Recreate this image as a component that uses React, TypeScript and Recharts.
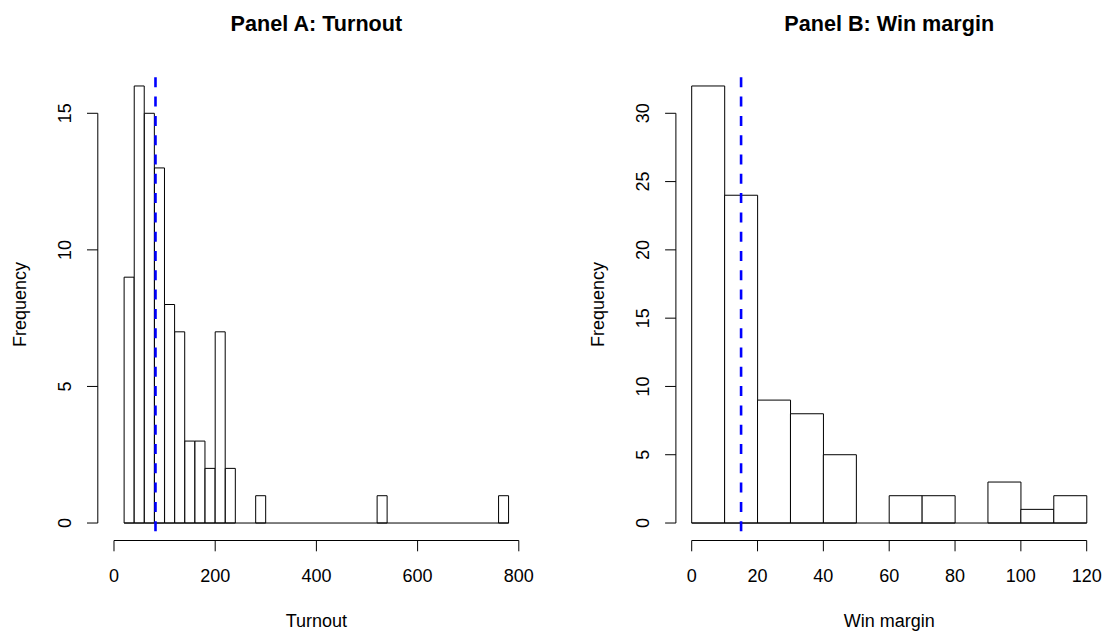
import React from "react";
import { ComposedChart, Bar, XAxis, YAxis, ReferenceLine, Label } from "recharts";

// Panel A: turnout histogram (bins of 20)
const turnoutBinStarts = [
  20, 40, 60, 80, 100, 120, 140, 160, 180, 200, 220, 240, 260, 280, 300, 320, 340, 360, 380,
  400, 420, 440, 460, 480, 500, 520, 540, 560, 580, 600, 620, 640, 660, 680, 700, 720, 740, 760,
];
const turnoutCounts = [
  9, 16, 15, 13, 8, 7, 3, 3, 2, 7, 2, 0, 0, 1, 0, 0, 0, 0, 0,
  0, 0, 0, 0, 0, 0, 1, 0, 0, 0, 0, 0, 0, 0, 0, 0, 0, 0, 1,
];
const turnoutTicks = [0, 200, 400, 600, 800];
const turnoutFreqTicks = [0, 5, 10, 15];
const turnoutMean = 82;

// Panel B: win margin histogram (bins of 10)
const marginBinStarts = [0, 10, 20, 30, 40, 50, 60, 70, 80, 90, 100, 110];
const marginCounts = [32, 24, 9, 8, 5, 0, 2, 2, 0, 3, 1, 2];
const marginTicks = [0, 20, 40, 60, 80, 100, 120];
const marginFreqTicks = [0, 5, 10, 15, 20, 25, 30];
const marginMean = 15;

const FONT = "'Liberation Sans', Arial, Helvetica, sans-serif";
const H = 632;
const PLOT_TOP = 68.5;
const PLOT_BOTTOM = 540.5;
const TICK = 10.8;

type PanelProps = {
  title: string;
  xLabel: string;
  binStarts: number[];
  binWidth: number;
  counts: number[];
  xTicks: number[];
  yTicks: number[];
  mean: number;
  xDomain: [number, number];
  yDomain: [number, number];
  chartLeft: number;
  chartWidth: number;
  plotLeft: number;
  plotRight: number;
};

function Panel(p: PanelProps) {
  const plotW = p.plotRight - p.plotLeft;
  const pxPerUnit = plotW / (p.xDomain[1] - p.xDomain[0]);
  const firstEdge = p.binStarts[0];
  const lastEdge = p.binStarts[p.binStarts.length - 1] + p.binWidth;
  const padLeft = (firstEdge - p.xDomain[0]) * pxPerUnit;
  const padRight = (p.xDomain[1] - lastEdge) * pxPerUnit;
  const data = p.binStarts.map((s, i) => ({
    bin: `${s}-${s + p.binWidth}`,
    mid: s + p.binWidth / 2,
    count: p.counts[i],
  }));
  const cx = (p.plotLeft + p.plotRight) / 2;
  const cy = (PLOT_TOP + PLOT_BOTTOM) / 2;

  return (
    <div style={{ position: "absolute", left: p.chartLeft, top: 0, width: p.chartWidth, height: H }}>
      <div
        style={{
          position: "absolute",
          left: cx - 200,
          top: 12.7,
          width: 400,
          textAlign: "center",
          fontFamily: FONT,
          fontWeight: "bold",
          fontSize: 21.6,
          lineHeight: 1,
          color: "#000",
          zIndex: 2,
        }}
      >
        {p.title}
      </div>
      <ComposedChart
        width={p.chartWidth}
        height={H}
        data={data}
        margin={{ top: PLOT_TOP, right: p.chartWidth - p.plotRight, bottom: 0, left: 0 }}
        barCategoryGap={0}
        barGap={0}
      >
        <XAxis
          xAxisId="bins"
          dataKey="bin"
          hide
          height={0}
          padding={{ left: padLeft, right: padRight }}
        />
        <XAxis
          xAxisId="num"
          type="number"
          dataKey="mid"
          domain={p.xDomain}
          allowDataOverflow
          ticks={p.xTicks}
          interval={0}
          height={H - PLOT_BOTTOM}
          axisLine={false}
          tickSize={TICK}
          tickLine={{ stroke: "#000" }}
          tick={(t: any) => (
            <text
              x={t.x}
              y={PLOT_BOTTOM + 41.6}
              textAnchor="middle"
              fontSize={18}
              fontFamily={FONT}
              fill="#000"
            >
              {t.payload.value}
            </text>
          )}
        >
          <Label
            content={() => (
              <text x={cx} y={PLOT_BOTTOM + 86} textAnchor="middle" fontSize={18} fontFamily={FONT} fill="#000">
                {p.xLabel}
              </text>
            )}
          />
        </XAxis>
        <YAxis
          yAxisId="y"
          type="number"
          domain={p.yDomain}
          allowDataOverflow
          ticks={p.yTicks}
          interval={0}
          width={p.plotLeft}
          axisLine={false}
          tickSize={TICK}
          tickLine={{ stroke: "#000" }}
          tick={(t: any) => {
            const tx = p.plotLeft - 26.8;
            return (
              <text
                x={tx}
                y={t.y}
                transform={`rotate(-90, ${tx}, ${t.y})`}
                textAnchor="middle"
                fontSize={18}
                fontFamily={FONT}
                fill="#000"
              >
                {t.payload.value}
              </text>
            );
          }}
        >
          <Label
            content={() => {
              const lx = p.plotLeft - 71.8;
              return (
                <text
                  x={lx}
                  y={cy}
                  transform={`rotate(-90, ${lx}, ${cy})`}
                  textAnchor="middle"
                  fontSize={18}
                  fontFamily={FONT}
                  fill="#000"
                >
                  Frequency
                </text>
              );
            }}
          />
        </YAxis>
        <Bar
          xAxisId="bins"
          yAxisId="y"
          dataKey="count"
          fill="#ffffff"
          stroke="#000000"
          strokeWidth={1}
          isAnimationActive={false}
        />
        <ReferenceLine
          xAxisId="num"
          yAxisId="y"
          ifOverflow="visible"
          stroke="#000"
          segment={[
            { x: firstEdge, y: 0 },
            { x: lastEdge, y: 0 },
          ]}
        />
        <ReferenceLine
          xAxisId="num"
          yAxisId="y"
          ifOverflow="visible"
          stroke="#000"
          segment={[
            { x: p.xTicks[0], y: p.yDomain[0] },
            { x: p.xTicks[p.xTicks.length - 1], y: p.yDomain[0] },
          ]}
        />
        <ReferenceLine
          xAxisId="num"
          yAxisId="y"
          ifOverflow="visible"
          stroke="#000"
          segment={[
            { x: p.xDomain[0], y: p.yTicks[0] },
            { x: p.xDomain[0], y: p.yTicks[p.yTicks.length - 1] },
          ]}
        />
        <ReferenceLine
          xAxisId="num"
          yAxisId="y"
          x={p.mean}
          stroke="#0000ff"
          strokeWidth={2.6}
          strokeDasharray="10 9.3"
          strokeDashoffset={10}
        />
      </ComposedChart>
    </div>
  );
}

export default function App() {
  return (
    <div style={{ position: "absolute", left: 0, top: 0, width: 1107, height: H, background: "#fff" }}>
      <Panel
        title="Panel A: Turnout"
        xLabel="Turnout"
        binStarts={turnoutBinStarts}
        binWidth={20}
        counts={turnoutCounts}
        xTicks={turnoutTicks}
        yTicks={turnoutFreqTicks}
        mean={turnoutMean}
        xDomain={[-32, 832]}
        yDomain={[-0.64, 16.64]}
        chartLeft={0}
        chartWidth={553}
        plotLeft={97.8}
        plotRight={535}
      />
      <Panel
        title="Panel B: Win margin"
        xLabel="Win margin"
        binStarts={marginBinStarts}
        binWidth={10}
        counts={marginCounts}
        xTicks={marginTicks}
        yTicks={marginFreqTicks}
        mean={marginMean}
        xDomain={[-4.8, 124.8]}
        yDomain={[-1.28, 33.28]}
        chartLeft={553}
        chartWidth={554}
        plotLeft={122.9}
        plotRight={549.5}
      />
    </div>
  );
}
